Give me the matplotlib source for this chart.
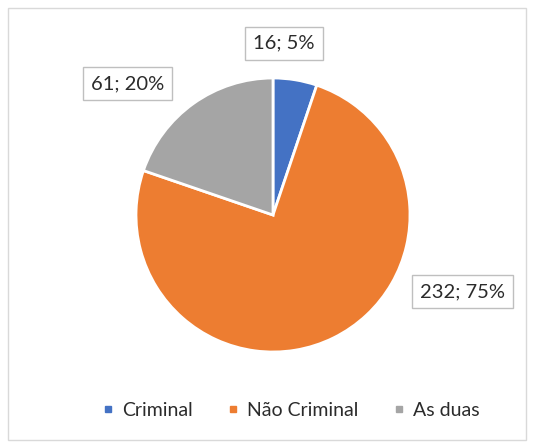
import matplotlib.pyplot as plt
from matplotlib.lines import Line2D
from matplotlib.patches import Rectangle

# dados do gráfico
categorias = ['Criminal', 'Não Criminal', 'As duas']
valores = [16, 232, 61]
percentuais = ['5%', '75%', '20%']
cores = ['#4472C4', '#ED7D31', '#A5A5A5']

plt.rcParams['font.family'] = ['Lato', 'DejaVu Sans']

W, H = 534, 447
fig = plt.figure(figsize=(W / 100, H / 100), dpi=100)

# moldura externa
fig.patches.append(Rectangle((8 / W, 7 / H), 518 / W, 432 / H, transform=fig.transFigure,
                             fill=False, edgecolor='#D9D9D9', linewidth=1))

ax = fig.add_axes([0, 0, 1, 1])
cx, cy, r = 273, 232, 137
wedges, _ = ax.pie(valores, colors=cores, startangle=90, counterclock=False,
                   wedgeprops=dict(edgecolor='white', linewidth=2))
ax.set_xlim(-cx / r, (W - cx) / r)
ax.set_ylim(-cy / r, (H - cy) / r)
ax.axis('off')

# posições dos rótulos (em raios a partir do centro)
pos_rotulos = [(0.08, 1.255), (1.38, -0.56), (-1.06, 0.96)]
for v, p, (x, y) in zip(valores, percentuais, pos_rotulos):
    ax.text(x, y, f'{v}; {p}', ha='center', va='center', fontsize=14.5, color='#2b2b2b',
            bbox=dict(boxstyle='square,pad=0.4', facecolor='white', edgecolor='#BFBFBF', linewidth=1))

handles = [Line2D([], [], marker='s', linestyle='none', markersize=5, color=c) for c in cores]
fig.legend(handles, categorias, loc='center', bbox_to_anchor=(291 / W, 37 / H), ncol=3,
           frameon=False, fontsize=14, handlelength=0.6, handletextpad=0.4,
           columnspacing=1.8, labelcolor='#2b2b2b')

fig.savefig('out.png', dpi=100)
